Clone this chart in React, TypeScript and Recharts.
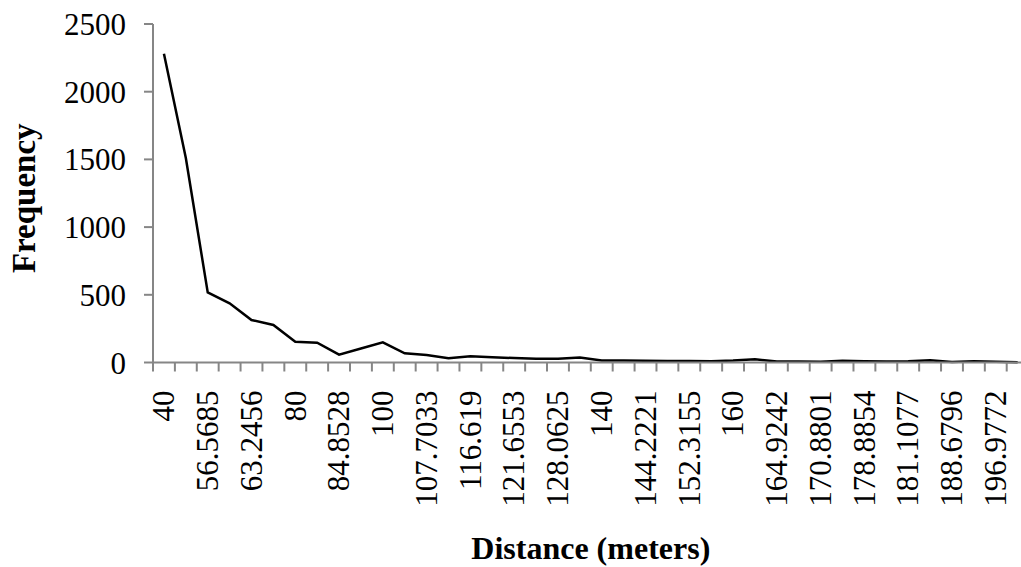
import React from "react";
import { LineChart, Line, XAxis, YAxis, Label } from "recharts";

// distance categories (meters), as printed on the x axis
const distances = [
  "40", "44.7214", "56.5685", "60", "63.2456", "72.111", "80", "82.4621",
  "84.8528", "89.4427", "100", "101.9804", "107.7033", "113.1371", "116.619",
  "120", "121.6553", "126.4911", "128.0625", "134.1641", "140", "141.4214",
  "144.2221", "145.6022", "152.3155", "156.205", "160", "161.2452",
  "164.9242", "169.7056", "170.8801", "172.0465", "178.8854", "180",
  "181.1077", "184.3909", "188.6796", "189.7367", "196.9772", "197.9899",
];

// frequency for each distance
const frequency = [
  2280, 1510, 518, 437, 314, 277, 154, 146, 58, 103, 149, 68, 55, 32, 46,
  38, 33, 28, 27, 37, 15, 15, 13, 12, 11, 10, 14, 24, 8, 7, 5, 13, 9, 8,
  10, 17, 3, 9, 6, 2,
];

const yTicks = [0, 500, 1000, 1500, 2000, 2500];

const data = distances.map((d, i) => ({ distance: d, frequency: frequency[i] }));

const FONT = "'Liberation Serif', 'Times New Roman', serif";
const AXIS = "#868686";

const DistanceTick = (props: any) => {
  const { x, y, payload } = props;
  const idx = distances.indexOf(payload.value);
  const half = payload && payload.offset ? payload.offset : 10.9;
  return (
    <g>
      <line
        x1={x - half}
        y1={y}
        x2={x - half}
        y2={y + 9}
        stroke={AXIS}
        strokeWidth={2}
      />
      {idx % 2 === 0 && (
        <g transform={`translate(${x},${y + 28}) rotate(-90)`}>
          <text
            x={0}
            y={0}
            dy="0.33em"
            textAnchor="end"
            fontSize={31}
            fill="#000"
            style={{ fontFamily: FONT }}
          >
            {payload.value}
          </text>
        </g>
      )}
    </g>
  );
};

export default function App() {
  return (
    <div
      style={{
        position: "absolute",
        left: 0,
        top: 0,
        width: 1021,
        height: 567,
        overflow: "hidden",
        background: "#fff",
      }}
    >
      <LineChart
        width={1040}
        height={567}
        data={data}
        margin={{ top: 24, right: 11.4, left: 0, bottom: 0 }}
      >
        <XAxis
          dataKey="distance"
          type="category"
          scale="band"
          interval={0}
          tickSize={0}
          tickMargin={0}
          tickLine={false}
          height={204.5}
          axisLine={{ stroke: AXIS, strokeWidth: 2 }}
          tick={DistanceTick}
        >
          <Label
            content={(p: any) => {
              const vb = p.viewBox || {};
              return (
                <text
                  x={vb.x + vb.width / 2}
                  y={vb.y + 196.5}
                  textAnchor="middle"
                  fontSize={32}
                  fontWeight="bold"
                  fill="#000"
                  style={{ fontFamily: FONT }}
                >
                  Distance (meters)
                </text>
              );
            }}
          />
        </XAxis>
        <YAxis
          type="number"
          width={153}
          domain={[0, 2500]}
          ticks={yTicks}
          interval={0}
          tickSize={9}
          tickMargin={18}
          axisLine={{ stroke: AXIS, strokeWidth: 2 }}
          tickLine={{ stroke: AXIS, strokeWidth: 2 }}
          tick={{ fontSize: 31, fill: "#000", style: { fontFamily: FONT } }}
        >
          <Label
            content={(p: any) => {
              const vb = p.viewBox || {};
              const cy = vb.y + vb.height / 2 + 5;
              return (
                <text
                  transform={`translate(35,${cy}) rotate(-90)`}
                  textAnchor="middle"
                  fontSize={33}
                  fontWeight="bold"
                  fill="#000"
                  style={{ fontFamily: FONT }}
                >
                  Frequency
                </text>
              );
            }}
          />
        </YAxis>
        <Line
          type="linear"
          dataKey="frequency"
          stroke="#000"
          strokeWidth={2.5}
          dot={false}
          isAnimationActive={false}
        />
      </LineChart>
    </div>
  );
}
